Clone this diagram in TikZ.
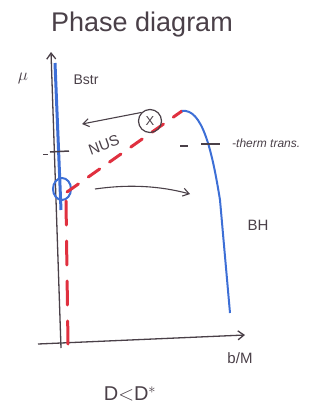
\documentclass[tikz,border=0pt]{standalone}
\usepackage{fontspec}
\setmainfont{Liberation Sans}
\usetikzlibrary{arrows.meta}
\definecolor{ink}{HTML}{4A4048}
\definecolor{bl}{HTML}{3D6FD6}
\definecolor{rd}{HTML}{E0303F}
\tikzset{
  axis/.style={draw=ink, line width=1.3pt, -{Straight Barb[length=6pt,width=9pt]}},
  blueline/.style={draw=bl, line width=2pt},
  redline/.style={draw=rd, line width=3pt, dash pattern=on 14pt off 12pt, line cap=round},
  lbl/.style={text=ink, inner sep=1pt},
  tick/.style={draw=ink, line width=1.5pt},
  arr/.style={draw=ink, line width=1.1pt, -{Straight Barb[length=6pt,width=8pt]}}
}
\begin{document}
\begin{tikzpicture}[x=1pt,y=-1pt]
\useasboundingbox (0,0) rectangle (326,416);
% title
\node[lbl, font=\fontsize{27}{30}\selectfont] (title) at (142,25) {Phase diagram};
% axes
\coordinate (ybot) at (61,348);
\coordinate (ytop) at (51,52);
\coordinate (xl) at (38,344);
\coordinate (xr) at (245,335);
\draw[axis] (ybot) -- (ytop);
\draw[axis] (xl) -- (xr);
\node[lbl, font=\fontsize{18}{18}\selectfont] (mu) at (23,78) {$\mu$};
\node[lbl, font=\fontsize{15}{16}\selectfont] (bm) at (240,358) {b/M};
% blue Bstr line
\coordinate (b1) at (55,63);
\coordinate (b2) at (61,210);
\draw[blueline, line width=3pt] (b1) -- (b2);
\node[lbl, font=\fontsize{14}{16}\selectfont] (bstr) at (86,80) {Bstr};
% blue circle
\draw[draw=bl, line width=2pt] (62,189) ellipse (9pt and 11pt);
\coordinate (circ) at (67,192);
% red dashed lines
\coordinate (rtop) at (182,111);
\draw[redline] (circ) -- (rtop);
\draw[redline, dash pattern=on 24pt off 16pt] (66,201) -- (68,344);
% BH curve
\coordinate (bhend) at (230,313);
\draw[blueline] (rtop) .. controls (202,108) and (212,150) .. (220,200) -- (bhend);
\node[lbl, font=\fontsize{15}{16}\selectfont] (bh) at (258,225) {BH};
% ticks
\coordinate (t0a) at (43,154);
\coordinate (t0b) at (48,154);
\draw[tick, line width=1pt] (t0a) -- (t0b);
\coordinate (t1a) at (50,152);
\coordinate (t1b) at (69,151);
\draw[tick] (t1a) -- (t1b);
\coordinate (t2a) at (180,146);
\coordinate (t2b) at (188,146);
\draw[tick] (t2a) -- (t2b);
\coordinate (t3a) at (201,144);
\coordinate (t3b) at (220,144);
\draw[tick] (t3a) -- (t3b);
\node[lbl, font=\itshape\fontsize{12}{13}\selectfont, anchor=west] (therm) at (231,143) {-therm trans.};
% NUS
\node[lbl, font=\fontsize{15}{16}\selectfont, rotate=20] (nus) at (104,145) {NUS};
% circled X
\node[draw=ink, line width=1.2pt, circle, minimum size=23pt, inner sep=0pt, lbl, font=\fontsize{13}{14}\selectfont] (x) at (150,121) {X};
% arrows
\coordinate (aleft) at (82,124);
\draw[arr] (x.north west) -- (aleft);
\coordinate (ar1) at (95,189);
\coordinate (ar2) at (190,194);
\draw[arr] (ar1) .. controls (130,184) and (160,186) .. (ar2);
% condition
\node[lbl, font=\fontsize{20}{22}\selectfont] (cond) at (130,394) {D$<$D$^{*}$};
\end{tikzpicture}
\end{document}
